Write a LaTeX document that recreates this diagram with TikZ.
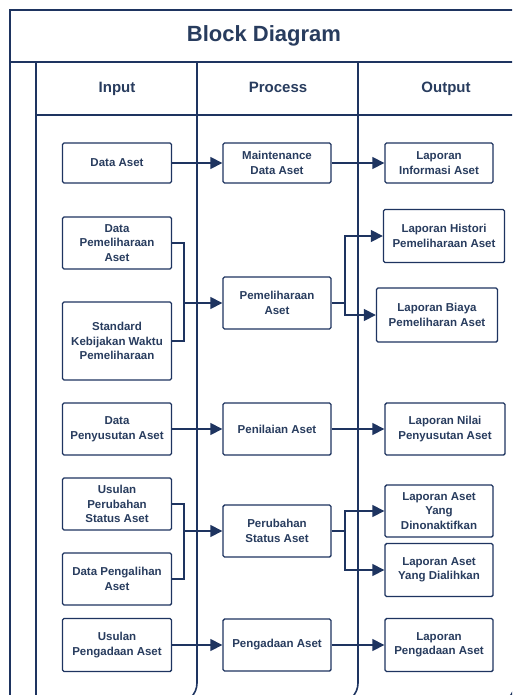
\documentclass[tikz,border=0pt]{standalone}
\usepackage{fontspec}
\setmainfont{Liberation Sans}
\usetikzlibrary{arrows.meta}
\definecolor{navy}{RGB}{30,52,96}
\definecolor{inkblue}{RGB}{40,60,94}

\begin{document}
\begin{tikzpicture}[x=1pt,y=-1pt,line width=1.4pt]
  \tikzstyle{block}=[draw=navy,fill=white,rounded corners=1.5pt,align=center,
    text=inkblue,font=\bfseries\fontsize{11.5}{14.5}\selectfont,inner sep=1pt]
  \tikzstyle{frame}=[draw=navy,line width=1.6pt]
  \tikzstyle{flow}=[draw=navy,line width=1.6pt,-{Triangle[length=12pt,width=12pt]}]
  \tikzstyle{head}=[text=inkblue,font=\bfseries\fontsize{15}{18}\selectfont,
    text height=11pt,text depth=3pt]
  \useasboundingbox (0,0) rectangle (512,695);
  \clip (0,0) rectangle (512,695);
  \fill[white] (0,0) rectangle (512,695);

  \draw[frame] (10,710) -- (10,10) -- (530,10);
  \draw[frame] (10,62) -- (530,62);
  \draw[frame] (36,62) -- (36,710);
  \draw[frame] (36,115) -- (530,115);
  \draw[frame,rounded corners=20pt] (197,62) -- (197,703) -- (150,703);
  \draw[frame,rounded corners=20pt] (358,62) -- (358,703) -- (300,703);
  \draw[frame,rounded corners=20pt] (515,62) -- (515,703) -- (450,703);

  \node[text=inkblue,font=\bfseries\fontsize{22}{26}\selectfont] (title) at (264,36) {Block Diagram};
  \node[head] (h_in) at (117,89) {Input};
  \node[head] (h_proc) at (278,89) {Process};
  \node[head] (h_out) at (446,89) {Output};

  \node[block,minimum width=109pt,minimum height=40pt] (in_1) at (117,163) {Data Aset};
  \node[block,minimum width=109pt,minimum height=52pt] (in_2) at (117,243) {Data\\Pemeliharaan\\Aset};
  \node[block,minimum width=109pt,minimum height=78pt] (in_3) at (117,341) {Standard\\Kebijakan Waktu\\Pemeliharaan};
  \node[block,minimum width=109pt,minimum height=52pt] (in_4) at (117,429) {Data\\Penyusutan Aset};
  \node[block,minimum width=109pt,minimum height=52pt] (in_5) at (117,504) {Usulan\\Perubahan\\Status Aset};
  \node[block,minimum width=109pt,minimum height=52pt] (in_6) at (117,579) {Data Pengalihan\\Aset};
  \node[block,minimum width=109pt,minimum height=53pt] (in_7) at (117,645) {Usulan\\Pengadaan Aset};

  \node[block,minimum width=108pt,minimum height=40pt] (proc_1) at (277,163) {Maintenance\\Data Aset};
  \node[block,minimum width=108pt,minimum height=52pt] (proc_2) at (277,303) {Pemeliharaan\\Aset};
  \node[block,minimum width=108pt,minimum height=52pt] (proc_3) at (277,429) {Penilaian Aset};
  \node[block,minimum width=108pt,minimum height=52pt] (proc_4) at (277,531) {Perubahan\\Status Aset};
  \node[block,minimum width=108pt,minimum height=52pt] (proc_5) at (277,645) {Pengadaan Aset};

  \node[block,minimum width=108pt,minimum height=40pt] (out_1) at (439,163) {Laporan\\Informasi Aset};
  \node[block,minimum width=121pt,minimum height=53pt] (out_2) at (444,236) {Laporan Histori\\Pemeliharaan Aset};
  \node[block,minimum width=121pt,minimum height=54pt] (out_3) at (437,315) {Laporan Biaya\\Pemeliharan Aset};
  \node[block,minimum width=120pt,minimum height=52pt] (out_4) at (445,429) {Laporan Nilai\\Penyusutan Aset};
  \node[block,minimum width=108pt,minimum height=52pt] (out_5) at (439,511) {Laporan Aset\\Yang\\Dinonaktifkan};
  \node[block,minimum width=108pt,minimum height=53pt] (out_6) at (439,570) {Laporan Aset\\Yang Dialihkan};
  \node[block,minimum width=108pt,minimum height=53pt] (out_7) at (439,645) {Laporan\\Pengadaan Aset};

  \coordinate (join_1) at (184,303);
  \coordinate (join_2) at (184,531);
  \coordinate (split_1) at (345,303);
  \coordinate (split_2) at (345,531);

  \draw[flow] (in_1) -- (proc_1);
  \draw[frame] (in_2.east) -| (join_1);
  \draw[frame] (in_3.east) -| (join_1);
  \draw[flow] (join_1) -- (proc_2);
  \draw[flow] (in_4) -- (proc_3);
  \draw[frame] (in_5.east) -| (join_2);
  \draw[frame] (in_6.east) -| (join_2);
  \draw[flow] (join_2) -- (proc_4);
  \draw[flow] (in_7) -- (proc_5);

  \draw[flow] (proc_1) -- (out_1);
  \draw[frame] (proc_2.east) -- (split_1);
  \draw[flow] (split_1) |- (out_2.west);
  \draw[flow] (split_1) |- (out_3.west);
  \draw[flow] (proc_3) -- (out_4.west);
  \draw[frame] (proc_4.east) -- (split_2);
  \draw[flow] (split_2) |- (out_5.west);
  \draw[flow] (split_2) |- (out_6.west);
  \draw[flow] (proc_5) -- (out_7);
\end{tikzpicture}
\end{document}
